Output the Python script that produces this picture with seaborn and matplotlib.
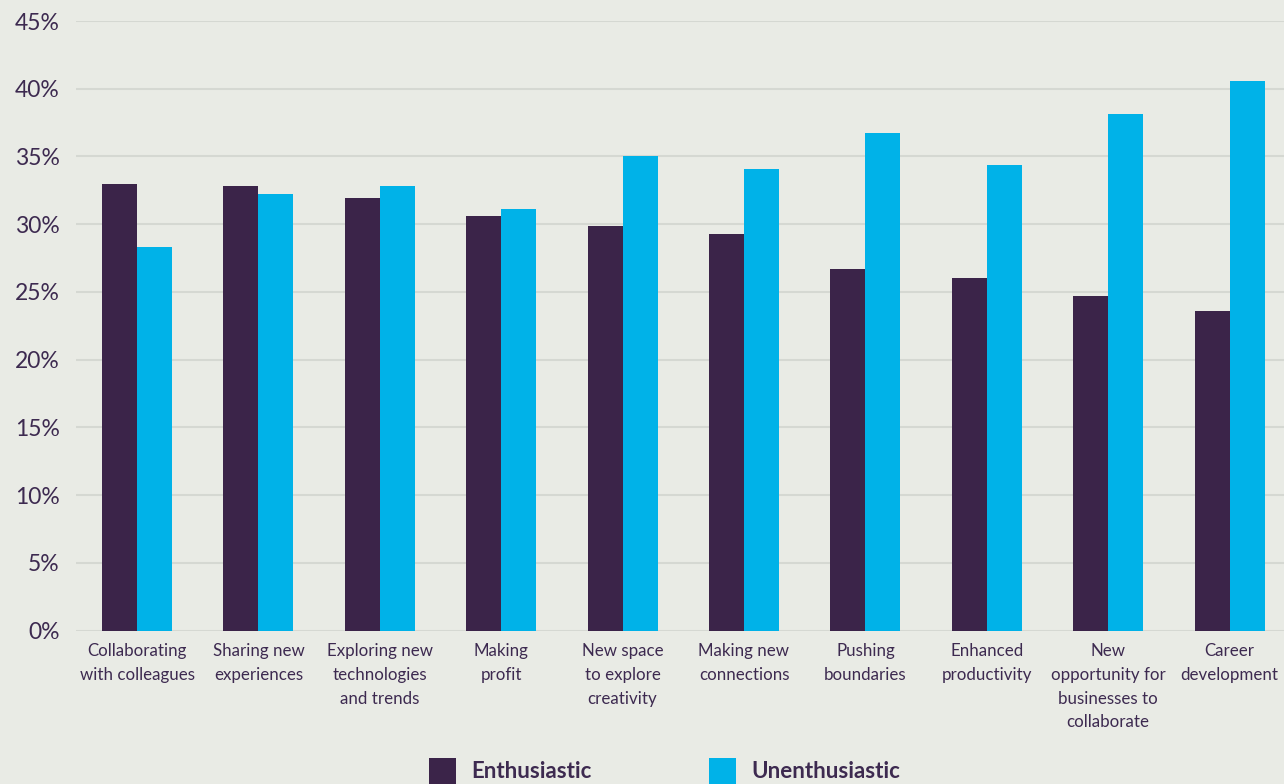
import matplotlib
matplotlib.use("Agg")
import matplotlib.pyplot as plt
import seaborn as sns
import pandas as pd
from matplotlib.patches import Patch
from matplotlib.ticker import FuncFormatter

categories = [
    "Collaborating\nwith colleagues",
    "Sharing new\nexperiences",
    "Exploring new\ntechnologies\nand trends",
    "Making\nprofit",
    "New space\nto explore\ncreativity",
    "Making new\nconnections",
    "Pushing\nboundaries",
    "Enhanced\nproductivity",
    "New\nopportunity for\nbusinesses to\ncollaborate",
    "Career\ndevelopment",
]
enthusiastic = [33.0, 32.8, 31.9, 30.6, 29.9, 29.3, 26.7, 26.0, 24.7, 23.6]
unenthusiastic = [28.3, 32.2, 32.8, 31.1, 35.0, 34.1, 36.7, 34.4, 38.1, 40.6]
series_names = ["Enthusiastic", "Unenthusiastic"]
yticks = [0, 5, 10, 15, 20, 25, 30, 35, 40, 45]

bg = "#e9ebe5"
text_color = "#3d2a50"
colors = ["#3b2449", "#00b2e8"]

df = pd.DataFrame({
    "category": categories * 2,
    "value": enthusiastic + unenthusiastic,
    "series": [series_names[0]] * len(categories) + [series_names[1]] * len(categories),
})

sns.set_theme(style="white")
plt.rcParams["font.family"] = ["Lato", "DejaVu Sans"]

fig = plt.figure(figsize=(12.84, 7.84), dpi=100, facecolor=bg)
ax = fig.add_axes([76.3 / 1284, 1 - 630.5 / 784, 1214 / 1284, (630.5 - 21) / 784])
ax.set_facecolor(bg)

sns.barplot(data=df, x="category", y="value", hue="series", palette=colors,
            width=0.577, gap=0, ax=ax, legend=False, saturation=1, linewidth=0)

ax.set_xlim(-0.5, 9.5)
ax.set_ylim(0, 45)
ax.set_yticks(yticks)
ax.yaxis.set_major_formatter(FuncFormatter(lambda v, p: f"{int(v)}%"))
ax.grid(axis="y", color="#d5d8d2", linewidth=1.5)
ax.set_axisbelow(True)
for s in ax.spines.values():
    s.set_visible(False)
ax.tick_params(axis="y", length=0, pad=12, labelsize=16.5, labelcolor=text_color)
ax.tick_params(axis="x", length=0, pad=9, labelsize=12.2, labelcolor=text_color)
for lbl in ax.get_xticklabels():
    lbl.set_linespacing(1.6)
    lbl.set_va("top")
ax.set_xlabel("")
ax.set_ylabel("")

handles = [Patch(facecolor=c, edgecolor="none") for c in colors]
fig.legend(handles, series_names, loc="upper left",
           bbox_to_anchor=(429 / 1284, 1 - 758 / 784), ncol=2, frameon=False,
           borderpad=0, borderaxespad=0, handlelength=1.2, handleheight=1.4,
           handletextpad=0.7, columnspacing=5.3,
           prop={"family": ["Lato", "DejaVu Sans"], "weight": "bold", "size": 16},
           labelcolor=text_color)

fig.savefig("out.png", dpi=100, facecolor=bg)
